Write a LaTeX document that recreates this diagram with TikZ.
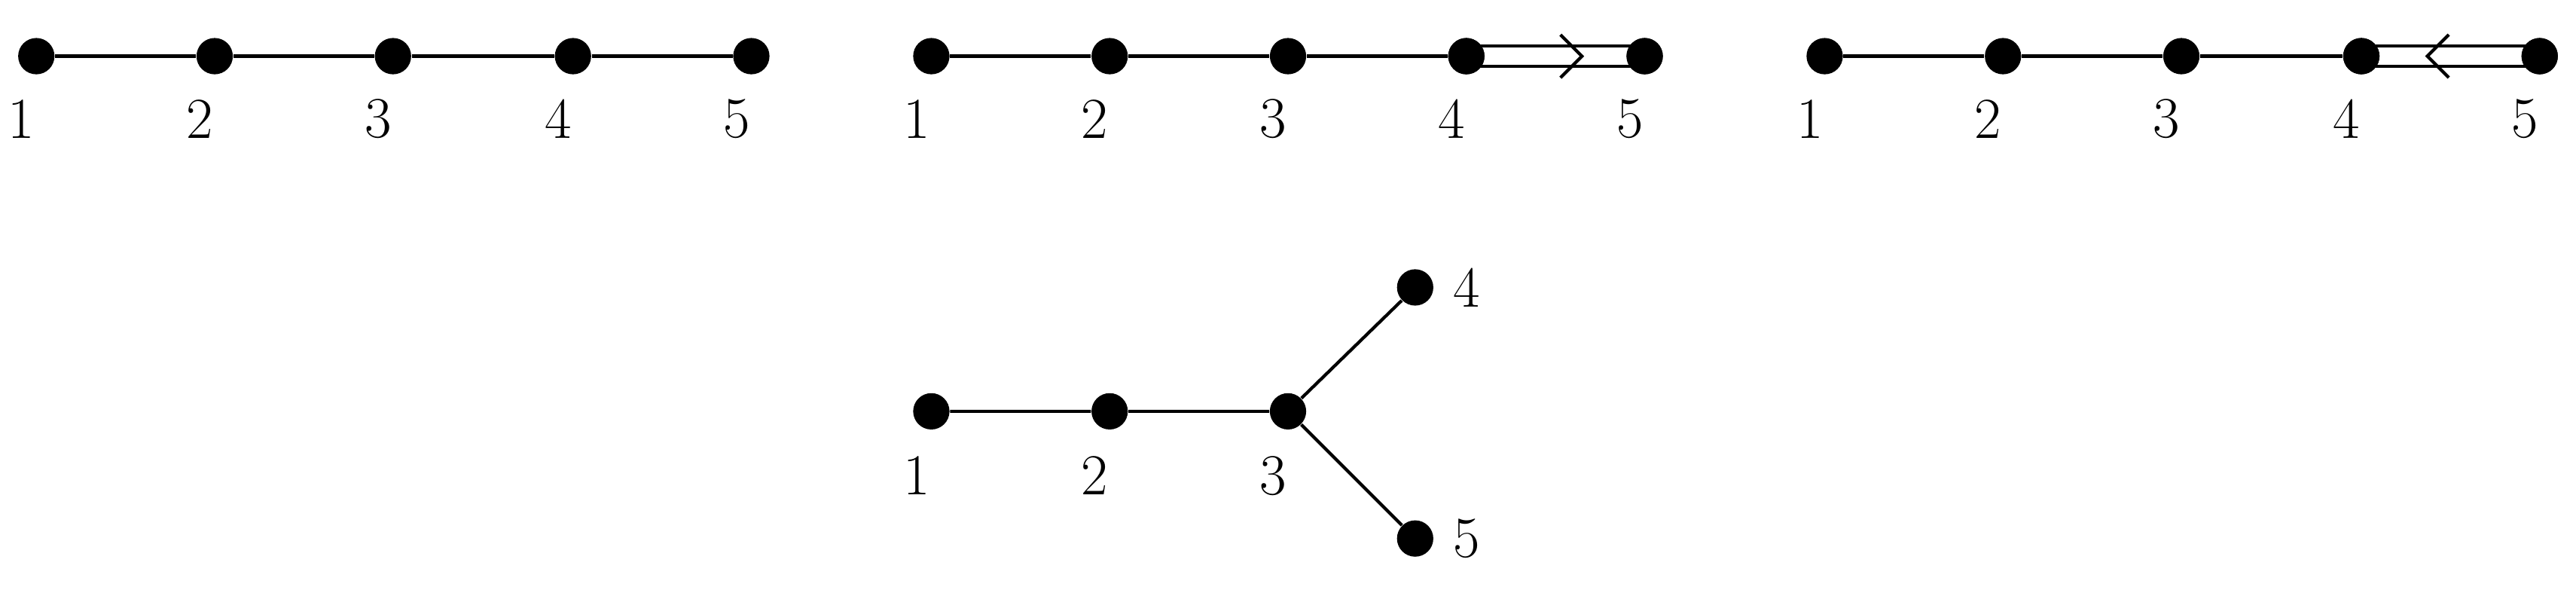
\documentclass[tikz,border=0pt]{standalone}
\begin{document}
\begin{tikzpicture}[x=0.02cm,y=-0.02cm,
  dot/.style={circle,fill=black,inner sep=0pt,minimum size=0.44cm},
  lab/.style={font=\fontsize{20}{24}\selectfont},
  edge/.style={line width=1.1pt},
  dbl/.style={line width=1.1pt,double,double distance=0.2cm}]
\useasboundingbox (0,0) rectangle (1560,357);
% diagram 1
\foreach \i/\x in {1/22,2/130,3/238,4/347,5/455}{
  \node[dot] (a\i) at (\x,34) {};
  \node[lab] at (\x-9,72) {\i};}
\draw[edge] (a1)--(a2)--(a3)--(a4)--(a5);
% diagram 2
\foreach \i/\x in {1/564,2/672,3/780,4/888,5/996}{
  \node[dot] (b\i) at (\x,34) {};
  \node[lab] at (\x-9,72) {\i};}
\draw[edge] (b1)--(b2)--(b3)--(b4);
\draw[edge] ([yshift=0.12cm]b4.center)--([yshift=0.12cm]b5.center);
\draw[edge] ([yshift=-0.12cm]b4.center)--([yshift=-0.12cm]b5.center);
\coordinate (c2) at (958,34);
\draw[edge] ([shift={(-13,-13)}]c2)--(c2)--([shift={(-13,13)}]c2);
% diagram 3
\foreach \i/\x in {1/1105,2/1213,3/1321,4/1430,5/1538}{
  \node[dot] (d\i) at (\x,34) {};
  \node[lab] at (\x-9,72) {\i};}
\draw[edge] (d1)--(d2)--(d3)--(d4);
\draw[edge] ([yshift=0.12cm]d4.center)--([yshift=0.12cm]d5.center);
\draw[edge] ([yshift=-0.12cm]d4.center)--([yshift=-0.12cm]d5.center);
\coordinate (c3) at (1470,34);
\draw[edge] ([shift={(13,-13)}]c3)--(c3)--([shift={(13,13)}]c3);
\foreach \n in {b4,b5,d4,d5}{\node[dot] at (\n) {};}
% bottom
\foreach \i/\x in {1/564,2/672,3/780}{
  \node[dot] (e\i) at (\x,249) {};
  \node[lab] at (\x-9,288) {\i};}
\node[dot] (e4) at (857,174) {};
\node[dot] (e5) at (857,326) {};
\node[lab] at (888,174) {4};
\node[lab] at (888,326) {5};
\draw[edge] (e1)--(e2)--(e3)--(e4);
\draw[edge] (e3)--(e5);
\end{tikzpicture}
\end{document}
